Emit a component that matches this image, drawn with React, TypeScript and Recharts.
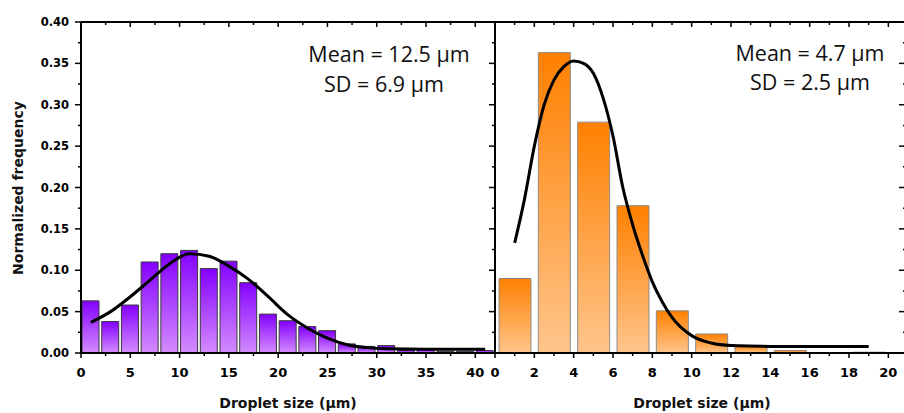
import React from 'react';
import { ComposedChart, Bar, Line, XAxis, YAxis } from 'recharts';

// left panel: histogram (2 µm bins) + fitted curve
const leftBins = [1, 3, 5, 7, 9, 11, 13, 15, 17, 19, 21, 23, 25, 27, 29, 31, 33, 35, 37, 39, 41];
const leftFreq = [0.063, 0.038, 0.058, 0.110, 0.120, 0.124, 0.102, 0.111, 0.085, 0.047, 0.039,
  0.032, 0.027, 0.011, 0.008, 0.009, 0.003, 0.004, 0.002, 0.002, 0.003];
const leftFitX = [1, 3, 5, 7, 9, 11, 13, 15, 17, 19, 21, 23, 25, 27, 29, 31, 35, 41];
const leftFitY = [0.037, 0.050, 0.068, 0.088, 0.108, 0.120, 0.117, 0.105, 0.089, 0.068, 0.046,
  0.030, 0.018, 0.010, 0.0065, 0.005, 0.0045, 0.0045];

// right panel
const rightBins = [1, 3, 5, 7, 9, 11, 13, 15, 17, 19];
const rightFreq = [0.090, 0.363, 0.279, 0.178, 0.051, 0.023, 0.009, 0.003, 0, 0.001];
const rightFitX = [1, 1.5, 2, 2.5, 3, 3.5, 4, 4.5, 5, 5.5, 6, 6.5, 7, 7.5, 8, 8.5, 9, 10, 11, 12, 14, 19];
const rightFitY = [0.133, 0.186, 0.250, 0.300, 0.330, 0.346, 0.353, 0.350, 0.338, 0.308, 0.262,
  0.200, 0.155, 0.118, 0.086, 0.062, 0.043, 0.021, 0.012, 0.009, 0.008, 0.008];

const yTicks = [0, 0.025, 0.05, 0.075, 0.1, 0.125, 0.15, 0.175, 0.2, 0.225, 0.25, 0.275, 0.3,
  0.325, 0.35, 0.375, 0.4];
const leftXTicks = [0, 2.5, 5, 7.5, 10, 12.5, 15, 17.5, 20, 22.5, 25, 27.5, 30, 32.5, 35, 37.5, 40];
const rightXTicks = [0, 1, 2, 3, 4, 5, 6, 7, 8, 9, 10, 11, 12, 13, 14, 15, 16, 17, 18, 19, 20];

const leftBars = leftBins.map((x, i) => ({ x, f: leftFreq[i] }));
const leftFit = leftFitX.map((x, i) => ({ x, y: leftFitY[i] }));
const rightBars = rightBins.map((x, i) => ({ x, f: rightFreq[i] }));
const rightFit = rightFitX.map((x, i) => ({ x, y: rightFitY[i] }));

const tickFont = { fontFamily: '"DejaVu Sans", sans-serif', fontWeight: 'bold' as const, fill: '#000' };
const axisLine = { stroke: '#000', strokeWidth: 2 };

const majY = (v: number) => Math.round(v * 1000) % 50 === 0;
const majL = (v: number) => v % 5 === 0;
const majR = (v: number) => v % 2 === 0;

// custom ticks so minor ticks can be shorter and point in/out like the original
const bottomTick = (isMajor: (v: number) => boolean) => (p: any) => {
  const v = p.payload.value;
  const m = isMajor(v);
  return (
    <g>
      <line x1={p.x} x2={p.x} y1={p.y} y2={p.y + (m ? 5 : 3)} stroke="#000" strokeWidth={1.5} />
      {m && <text x={p.x} y={p.y + 24} textAnchor="middle" fontSize={13} style={tickFont}>{v}</text>}
    </g>
  );
};
const topTick = (isMajor: (v: number) => boolean) => (p: any) => {
  const m = isMajor(p.payload.value);
  return <line x1={p.x} x2={p.x} y1={p.y} y2={p.y + (m ? 5 : 3)} stroke="#000" strokeWidth={1.5} />;
};
const leftTick = (labels: boolean) => (p: any) => {
  const v = p.payload.value;
  const m = majY(v);
  return (
    <g>
      <line x1={p.x} x2={p.x - (m ? 6 : 3)} y1={p.y} y2={p.y} stroke="#000" strokeWidth={1.5} />
      {m && labels && (
        <text x={p.x - 12} y={p.y + 4} textAnchor="end" fontSize={11.5} style={tickFont}>{v.toFixed(2)}</text>
      )}
    </g>
  );
};
const rightTick = (p: any) => {
  const m = majY(p.payload.value);
  return <line x1={p.x} x2={p.x - (m ? 9 : 5)} y1={p.y} y2={p.y} stroke="#000" strokeWidth={1.5} />;
};

const annot = { fontFamily: '"Open Sans", sans-serif', fontSize: 21.5, fill: '#111' };
const title = { fontFamily: '"DejaVu Sans", sans-serif', fontWeight: 'bold' as const, fontSize: 14, fill: '#111' };

export default function App() {
  return (
    <div style={{ position: 'absolute', left: 0, top: 0, width: 904, height: 413, overflow: 'hidden', background: '#fff' }}>
      <div style={{ position: 'absolute', left: 0, top: 0 }}>
        <ComposedChart width={500} height={413} data={leftBars} margin={{ top: 12, right: 5, bottom: 30, left: 0 }}>
          <defs>
            <linearGradient id="purp" x1="0" y1="0" x2="0" y2="1">
              <stop offset="0%" stopColor="#8400ff" />
              <stop offset="100%" stopColor="#d48cff" />
            </linearGradient>
          </defs>
          <XAxis xAxisId="curve" orientation="top" dataKey="x" type="number" domain={[0, 42]} allowDataOverflow height={0} hide />
          <XAxis xAxisId="x" dataKey="x" type="number" domain={[0, 42]} allowDataOverflow ticks={leftXTicks}
            interval={0} height={30} tickSize={0} tickMargin={0} tickLine={false} axisLine={axisLine} tick={bottomTick(majL)} />
          <XAxis xAxisId="top" orientation="top" dataKey="x" type="number" domain={[0, 42]} allowDataOverflow ticks={leftXTicks}
            interval={0} height={10} tickSize={0} tickMargin={0} tickLine={false} axisLine={axisLine} tick={topTick(majL)} />
          <YAxis type="number" domain={[0, 0.4]} allowDataOverflow ticks={yTicks} interval={0} width={81}
            tickSize={0} tickMargin={0} tickLine={false} axisLine={axisLine} tick={leftTick(true)} />
          <Bar xAxisId="x" dataKey="f" barSize={17} fill="url(#purp)" stroke="#3a3a3a" strokeWidth={1} isAnimationActive={false} />
          <Line xAxisId="curve" data={leftFit} dataKey="y" type="monotone" stroke="#000" strokeWidth={3}
            dot={false} isAnimationActive={false} />
        </ComposedChart>
      </div>
      <div style={{ position: 'absolute', left: 470, top: 0 }}>
        <ComposedChart width={448} height={413} data={rightBars} margin={{ top: 12, right: 0, bottom: 30, left: 0 }}>
          <defs>
            <linearGradient id="orng" x1="0" y1="0" x2="0" y2="1">
              <stop offset="0%" stopColor="#ff8000" />
              <stop offset="100%" stopColor="#ffc58c" />
            </linearGradient>
          </defs>
          <XAxis xAxisId="curve" orientation="top" dataKey="x" type="number" domain={[0, 21]} allowDataOverflow height={0} hide />
          <XAxis xAxisId="x" dataKey="x" type="number" domain={[0, 21]} allowDataOverflow ticks={rightXTicks}
            interval={0} height={30} tickSize={0} tickMargin={0} tickLine={false} axisLine={axisLine} tick={bottomTick(majR)} />
          <XAxis xAxisId="top" orientation="top" dataKey="x" type="number" domain={[0, 21]} allowDataOverflow ticks={rightXTicks}
            interval={0} height={10} tickSize={0} tickMargin={0} tickLine={false} axisLine={axisLine} tick={topTick(majR)} />
          <YAxis type="number" domain={[0, 0.4]} allowDataOverflow ticks={yTicks} interval={0} width={25}
            tickSize={0} tickMargin={0} tickLine={false} axisLine={axisLine} tick={leftTick(false)} />
          <YAxis yAxisId="r" orientation="right" type="number" domain={[0, 0.4]} allowDataOverflow ticks={yTicks}
            interval={0} width={10} tickSize={0} tickMargin={0} tickLine={false} axisLine={axisLine} tick={rightTick} />
          <Bar xAxisId="x" dataKey="f" barSize={32} fill="url(#orng)" stroke="#8c8c8c" strokeWidth={1} isAnimationActive={false} />
          <Line xAxisId="curve" data={rightFit} dataKey="y" type="monotone" stroke="#000" strokeWidth={3}
            dot={false} isAnimationActive={false} />
        </ComposedChart>
      </div>
      <svg width={904} height={413} style={{ position: 'absolute', left: 0, top: 0, pointerEvents: 'none' }}>
        <text x={389} y={62} textAnchor="middle" style={annot}>Mean = 12.5 µm</text>
        <text x={384} y={92} textAnchor="middle" style={annot}>SD = 6.9 µm</text>
        <text x={810} y={61} textAnchor="middle" style={annot}>Mean = 4.7 µm</text>
        <text x={810} y={90} textAnchor="middle" style={annot}>SD = 2.5 µm</text>
        <text x={288} y={408} textAnchor="middle" style={title}>Droplet size (µm)</text>
        <text x={702} y={408} textAnchor="middle" style={title}>Droplet size (µm)</text>
        <text x={23} y={188} textAnchor="middle" transform="rotate(-90 23 188)" style={title}>Normalized frequency</text>
      </svg>
    </div>
  );
}
